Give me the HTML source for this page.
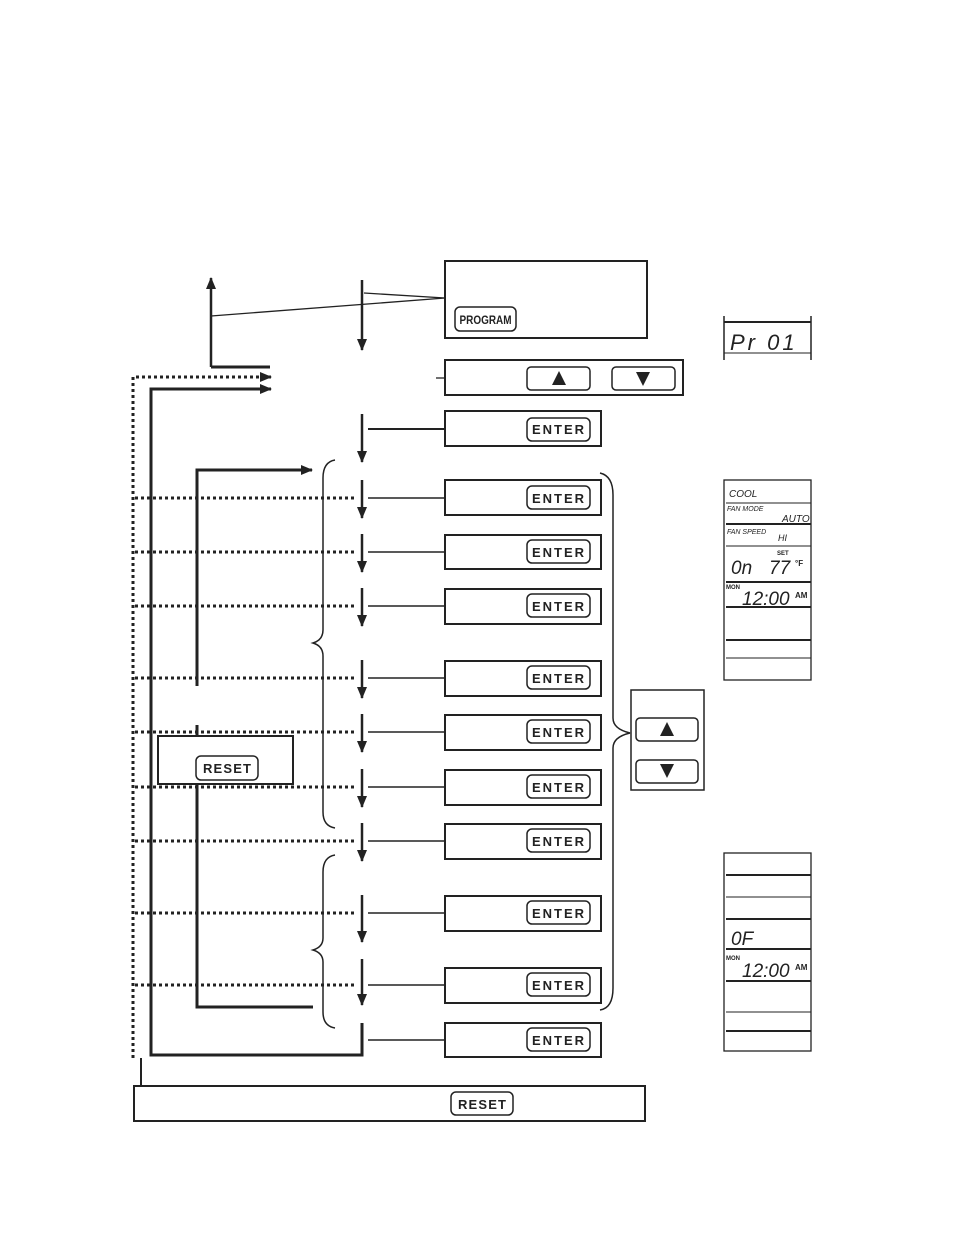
<!DOCTYPE html>
<html><head><meta charset="utf-8"><style>
html,body{margin:0;padding:0;background:#fff;}
svg{display:block;}
text{font-family:"Liberation Sans",sans-serif;fill:#222;}
</style></head><body>
<svg width="954" height="1235" viewBox="0 0 954 1235" xmlns="http://www.w3.org/2000/svg">
<defs>
<marker id="ah" markerWidth="12" markerHeight="12" refX="11" refY="5" orient="auto" markerUnits="userSpaceOnUse">
<path d="M0,0 L12,5 L0,10 Z" fill="#222"/></marker>
</defs>
<g stroke="#222" fill="none">
<line x1="362" y1="280" x2="362" y2="350" stroke-width="2.5" marker-end="url(#ah)"/>
<line x1="211" y1="367" x2="211" y2="278" stroke-width="2.5" marker-end="url(#ah)"/>
<polyline points="211,367 270,367" stroke-width="3"/>
<line x1="211" y1="316" x2="445" y2="298" stroke-width="1.3"/>
<line x1="364" y1="293" x2="445" y2="298" stroke-width="1.3"/>
<line x1="436" y1="378" x2="445" y2="378" stroke-width="1.3"/>
<polyline points="133,1058 133,377 271,377" stroke-width="3" stroke-dasharray="3,3" marker-end="url(#ah)"/>
<polyline points="362,1023 362,1055 151,1055 151,389 271,389" stroke-width="3" marker-end="url(#ah)"/>
<line x1="141" y1="1058" x2="141" y2="1086" stroke-width="2"/>
<line x1="362" y1="414" x2="362" y2="462" stroke-width="2.5" marker-end="url(#ah)"/>
<line x1="368" y1="429" x2="445" y2="429" stroke-width="2"/>
<polyline points="197,686 197,470 312,470" stroke-width="3" marker-end="url(#ah)"/>
<line x1="197" y1="725" x2="197" y2="736" stroke-width="3"/>
<polyline points="197,784 197,1007 313,1007" stroke-width="3"/>
<path d="M335,460 Q323,462 323,478 L323,630 Q323,640 313,643 Q323,646 323,656 L323,812 Q323,826 335,828" stroke-width="1.5"/>
<path d="M335,855 Q323,857 323,872 L323,938 Q323,947 313,950 Q323,953 323,962 L323,1012 Q323,1026 335,1028" stroke-width="1.5"/>
<path d="M600,473 Q613,476 613,495 L613,718 Q613,729 630,733 Q613,737 613,748 L613,988 Q613,1008 600,1010" stroke-width="1.5"/>
</g>
<g stroke="#222" fill="none">
<rect x="445" y="261" width="202" height="77" stroke-width="2"/>
<rect x="455" y="307" width="61" height="24" rx="5" stroke-width="1.5"/>
<rect x="445" y="360" width="238" height="35" stroke-width="2"/>
<rect x="527" y="367" width="63" height="23" rx="4" stroke-width="1.5"/>
<rect x="612" y="367" width="63" height="23" rx="4" stroke-width="1.5"/>
<rect x="158" y="736" width="135" height="48" stroke-width="2" fill="#fff"/>
<rect x="196" y="756" width="62" height="24" rx="5" stroke-width="1.5"/>
<rect x="134" y="1086" width="511" height="35" stroke-width="2"/>
<rect x="451" y="1092" width="62" height="23" rx="5" stroke-width="1.5"/>
<rect x="631" y="690" width="73" height="100" stroke-width="1.5"/>
<rect x="636" y="718" width="62" height="23" rx="4" stroke-width="1.5"/>
<rect x="636" y="760" width="62" height="23" rx="4" stroke-width="1.5"/>
<line x1="724" y1="316" x2="724" y2="360" stroke-width="1.5"/>
<line x1="811" y1="316" x2="811" y2="360" stroke-width="1.5"/>
<line x1="724" y1="322" x2="811" y2="322" stroke-width="2"/>
<line x1="724" y1="353" x2="811" y2="353" stroke-width="1"/>
<rect x="724" y="480" width="87" height="200" stroke-width="1.3"/>
<line x1="726" y1="503" x2="811" y2="503" stroke-width="1"/>
<line x1="726" y1="524" x2="811" y2="524" stroke-width="2"/>
<line x1="726" y1="546" x2="811" y2="546" stroke-width="1"/>
<line x1="726" y1="582" x2="811" y2="582" stroke-width="2"/>
<line x1="726" y1="607" x2="811" y2="607" stroke-width="2"/>
<line x1="726" y1="640" x2="811" y2="640" stroke-width="2"/>
<line x1="726" y1="658" x2="811" y2="658" stroke-width="1"/>
<rect x="724" y="853" width="87" height="198" stroke-width="1.3"/>
<line x1="726" y1="875" x2="811" y2="875" stroke-width="2"/>
<line x1="726" y1="897" x2="811" y2="897" stroke-width="1"/>
<line x1="726" y1="919" x2="811" y2="919" stroke-width="2"/>
<line x1="726" y1="949" x2="811" y2="949" stroke-width="2"/>
<line x1="726" y1="981" x2="811" y2="981" stroke-width="2"/>
<line x1="726" y1="1012" x2="811" y2="1012" stroke-width="1"/>
<line x1="726" y1="1031" x2="811" y2="1031" stroke-width="2"/>
</g>
<g fill="#222" stroke="none">
<path d="M559,371 L566,385 L552,385 Z"/>
<path d="M636,372 L650,372 L643,386 Z"/>
<path d="M667,722 L674,736 L660,736 Z"/>
<path d="M660,764 L674,764 L667,778 Z"/>
</g>
<g font-weight="bold">
<text x="485.5" y="324" font-size="12" text-anchor="middle" textLength="52" lengthAdjust="spacingAndGlyphs">PROGRAM</text>
<text x="203" y="773" font-size="13" textLength="48" lengthAdjust="spacing">RESET</text>
<text x="458" y="1109" font-size="13" textLength="48" lengthAdjust="spacing">RESET</text>
</g>
<g font-style="italic">
<text x="730" y="350" font-size="22" letter-spacing="3">Pr 01</text>
<text x="729" y="497" font-size="10">COOL</text>
<text x="727" y="511" font-size="7">FAN MODE</text>
<text x="782" y="522" font-size="10">AUTO</text>
<text x="727" y="534" font-size="7">FAN SPEED</text>
<text x="778" y="541" font-size="9">HI</text>
<text x="777" y="555" font-size="6" font-weight="bold" font-style="normal">SET</text>
<text x="731" y="574" font-size="19">0n</text>
<text x="769" y="574" font-size="19">77</text>
<text x="795" y="566" font-size="8" font-style="normal" font-weight="bold">°F</text>
<text x="726" y="589" font-size="6" font-weight="bold" font-style="normal">MON</text>
<text x="742" y="605" font-size="19">12:00</text>
<text x="795" y="598" font-size="8" font-style="normal" font-weight="bold">AM</text>
<text x="731" y="945" font-size="19">0F</text>
<text x="726" y="960" font-size="6" font-weight="bold" font-style="normal">MON</text>
<text x="742" y="977" font-size="19">12:00</text>
<text x="795" y="970" font-size="8" font-style="normal" font-weight="bold">AM</text>
</g>
<g stroke="#222" fill="none">
<g stroke-width="3" stroke-dasharray="3,3">
<line x1="135" y1="498" x2="357" y2="498"/><line x1="135" y1="552" x2="357" y2="552"/>
<line x1="135" y1="606" x2="357" y2="606"/><line x1="135" y1="678" x2="357" y2="678"/>
<line x1="135" y1="732" x2="357" y2="732"/><line x1="135" y1="787" x2="357" y2="787"/>
<line x1="135" y1="841" x2="357" y2="841"/><line x1="135" y1="913" x2="357" y2="913"/>
<line x1="135" y1="985" x2="357" y2="985"/>
</g>
<g stroke-width="2.5" marker-end="url(#ah)">
<line x1="362" y1="480" x2="362" y2="518"/><line x1="362" y1="534" x2="362" y2="572"/>
<line x1="362" y1="588" x2="362" y2="626"/><line x1="362" y1="660" x2="362" y2="698"/>
<line x1="362" y1="714" x2="362" y2="752"/><line x1="362" y1="769" x2="362" y2="807"/>
<line x1="362" y1="823" x2="362" y2="861"/><line x1="362" y1="895" x2="362" y2="942"/>
<line x1="362" y1="959" x2="362" y2="1005"/>
</g>
<g stroke-width="1.5">
<line x1="368" y1="498" x2="445" y2="498"/><line x1="368" y1="552" x2="445" y2="552"/>
<line x1="368" y1="606" x2="445" y2="606"/><line x1="368" y1="678" x2="445" y2="678"/>
<line x1="368" y1="732" x2="445" y2="732"/><line x1="368" y1="787" x2="445" y2="787"/>
<line x1="368" y1="841" x2="445" y2="841"/><line x1="368" y1="913" x2="445" y2="913"/>
<line x1="368" y1="985" x2="445" y2="985"/><line x1="368" y1="1040" x2="445" y2="1040"/>
</g>
<g stroke-width="2">
<rect x="445" y="411" width="156" height="35"/><rect x="445" y="480" width="156" height="35"/>
<rect x="445" y="535" width="156" height="34"/><rect x="445" y="589" width="156" height="35"/>
<rect x="445" y="661" width="156" height="35"/><rect x="445" y="715" width="156" height="35"/>
<rect x="445" y="770" width="156" height="35"/><rect x="445" y="824" width="156" height="35"/>
<rect x="445" y="896" width="156" height="35"/><rect x="445" y="968" width="156" height="35"/>
<rect x="445" y="1023" width="156" height="34"/>
</g>
<g stroke-width="1.5">
<rect x="527" y="418" width="63" height="23" rx="5"/><rect x="527" y="486" width="63" height="23" rx="5"/>
<rect x="527" y="540" width="63" height="23" rx="5"/><rect x="527" y="594" width="63" height="23" rx="5"/>
<rect x="527" y="666" width="63" height="23" rx="5"/><rect x="527" y="720" width="63" height="23" rx="5"/>
<rect x="527" y="775" width="63" height="23" rx="5"/><rect x="527" y="829" width="63" height="23" rx="5"/>
<rect x="527" y="901" width="63" height="23" rx="5"/><rect x="527" y="973" width="63" height="23" rx="5"/>
<rect x="527" y="1028" width="63" height="23" rx="5"/>
</g>
</g>
<g font-weight="bold" font-size="13">
<text x="532" y="434" textLength="52" lengthAdjust="spacing">ENTER</text><text x="532" y="503" textLength="52" lengthAdjust="spacing">ENTER</text>
<text x="532" y="557" textLength="52" lengthAdjust="spacing">ENTER</text><text x="532" y="611" textLength="52" lengthAdjust="spacing">ENTER</text>
<text x="532" y="683" textLength="52" lengthAdjust="spacing">ENTER</text><text x="532" y="737" textLength="52" lengthAdjust="spacing">ENTER</text>
<text x="532" y="792" textLength="52" lengthAdjust="spacing">ENTER</text><text x="532" y="846" textLength="52" lengthAdjust="spacing">ENTER</text>
<text x="532" y="918" textLength="52" lengthAdjust="spacing">ENTER</text><text x="532" y="990" textLength="52" lengthAdjust="spacing">ENTER</text>
<text x="532" y="1045" textLength="52" lengthAdjust="spacing">ENTER</text>
</g>
</svg>
</body></html>
